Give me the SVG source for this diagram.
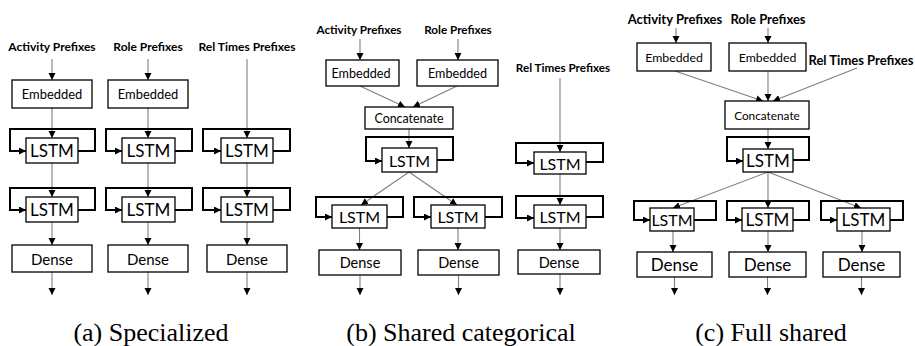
<svg xmlns="http://www.w3.org/2000/svg" width="915" height="346" viewBox="0 0 915 346">
  <defs>
    <marker id="ah" markerUnits="userSpaceOnUse" markerWidth="8" markerHeight="8" refX="7" refY="3.5" orient="auto">
      <path d="M0,0 L7,3.5 L0,7 z" fill="#000"/>
    </marker>
    <style>
      .box { fill: #fff; stroke: #000; stroke-width: 1.3; }
      .t { font-family: Lato, "Liberation Sans", sans-serif; text-anchor: middle; dominant-baseline: central; fill: #000; }
      .lbl { font-family: Lato, "Liberation Sans", sans-serif; font-weight: bold; text-anchor: middle; dominant-baseline: central; fill: #000; }
      .wire { fill: none; stroke: #7f7f7f; stroke-width: 1.1; marker-end: url(#ah); }
      .loop { fill: none; stroke: #000; stroke-width: 2; marker-end: url(#ah); }
      .cap { font-family: "Liberation Serif", "Times New Roman", serif; font-size: 26px; text-anchor: middle; fill: #000; }
    </style>
  </defs>
  <rect width="915" height="346" fill="#fff"/>

  <!-- connectors -->
  <g id="connectors">
    <!-- (a) specialized -->
    <path class="wire" d="M52,59 V80"/>
    <path class="wire" d="M148,59 V80"/>
    <path class="wire" d="M247,59 V138"/>
    <path class="wire" d="M52,108 V138"/>
    <path class="wire" d="M148,108 V138"/>
    <path class="wire" d="M52,163 V197"/>
    <path class="wire" d="M148,163 V197"/>
    <path class="wire" d="M247,163 V197"/>
    <path class="wire" d="M52,222 V245"/>
    <path class="wire" d="M148,222 V245"/>
    <path class="wire" d="M247,222 V245"/>
    <path class="wire" d="M52,272 V295"/>
    <path class="wire" d="M148,272 V295"/>
    <path class="wire" d="M247,272 V295"/>
    <path class="loop" d="M78,151 H95 V129 H10 V151 H26"/>
    <path class="loop" d="M175,151 H192 V129 H106 V151 H122"/>
    <path class="loop" d="M273,151 H290 V129 H203 V151 H221"/>
    <path class="loop" d="M78,210 H95 V188 H10 V210 H26"/>
    <path class="loop" d="M175,210 H192 V188 H106 V210 H122"/>
    <path class="loop" d="M273,210 H290 V188 H203 V210 H221"/>

    <!-- (b) shared categorical -->
    <path class="wire" d="M360,39 V60"/>
    <path class="wire" d="M458,39 V60"/>
    <path class="wire" d="M360,86 L405,107"/>
    <path class="wire" d="M457,86 L413,107"/>
    <path class="wire" d="M409,129 V148"/>
    <path class="wire" d="M409,172 L361,205"/>
    <path class="wire" d="M409,172 L457,205"/>
    <path class="wire" d="M359.5,228 V250"/>
    <path class="wire" d="M458,228 V250"/>
    <path class="wire" d="M360,275 V295"/>
    <path class="wire" d="M458.5,275 V295"/>
    <path class="wire" d="M560,78 V152"/>
    <path class="wire" d="M560,174 V205"/>
    <path class="wire" d="M560,228 V250"/>
    <path class="wire" d="M560,274 V295"/>
    <path class="loop" d="M437,160 H453 V137 H366 V161 H382"/>
    <path class="loop" d="M387,217 H403 V197 H316 V217 H332"/>
    <path class="loop" d="M485,217 H502 V197 H414 V217 H431"/>
    <path class="loop" d="M586,162 H603 V143 H516 V163 H534"/>
    <path class="loop" d="M586,217 H603 V196 H516 V218 H534"/>

    <!-- (c) full shared -->
    <path class="wire" d="M676,28 V43"/>
    <path class="wire" d="M768,28 V43"/>
    <path class="wire" d="M675,71 L763,101"/>
    <path class="wire" d="M768,71 V101"/>
    <path class="wire" d="M857,68 L773,101"/>
    <path class="wire" d="M768,129 V149"/>
    <path class="wire" d="M768,172 L673,208"/>
    <path class="wire" d="M768,172 V208"/>
    <path class="wire" d="M768,172 L861,208"/>
    <path class="wire" d="M673,231 V252"/>
    <path class="wire" d="M768,231 V252"/>
    <path class="wire" d="M862,231 V252"/>
    <path class="wire" d="M674.5,277 V295"/>
    <path class="wire" d="M767.5,277 V295"/>
    <path class="wire" d="M861.5,277 V295"/>
    <path class="loop" d="M793,160 H809 V137 H727 V161 H743"/>
    <path class="loop" d="M694,220 H716 V201 H634 V220 H650"/>
    <path class="loop" d="M793,220 H809 V201 H727 V220 H742"/>
    <path class="loop" d="M890,220 H903 V201 H821 V220 H837"/>
  </g>

  <!-- (a) specialized -->
  <g id="a-act-label"><text class="lbl" x="52" y="46" font-size="12">Activity Prefixes</text></g>
  <g id="a-role-label"><text class="lbl" x="148" y="46" font-size="12">Role Prefixes</text></g>
  <g id="a-rel-label"><text class="lbl" x="247" y="46" font-size="12">Rel Times Prefixes</text></g>
  <g id="a-emb-1"><rect class="box" x="12" y="80" width="80" height="28"/><text class="t" x="52" y="94" font-size="12.9">Embedded</text></g>
  <g id="a-emb-2"><rect class="box" x="108" y="80" width="80" height="28"/><text class="t" x="148" y="94" font-size="12.9">Embedded</text></g>
  <g id="a-lstm-1-1"><rect class="box" x="26" y="138" width="52" height="25"/><text class="t" x="52" y="150.5" font-size="17">LSTM</text></g>
  <g id="a-lstm-2-1"><rect class="box" x="122" y="138" width="53" height="25"/><text class="t" x="148.5" y="150.5" font-size="17">LSTM</text></g>
  <g id="a-lstm-3-1"><rect class="box" x="221" y="138" width="52" height="25"/><text class="t" x="247" y="150.5" font-size="17">LSTM</text></g>
  <g id="a-lstm-1-2"><rect class="box" x="26" y="197" width="52" height="25"/><text class="t" x="52" y="209.5" font-size="17">LSTM</text></g>
  <g id="a-lstm-2-2"><rect class="box" x="122" y="197" width="53" height="25"/><text class="t" x="148.5" y="209.5" font-size="17">LSTM</text></g>
  <g id="a-lstm-3-2"><rect class="box" x="221" y="197" width="52" height="25"/><text class="t" x="247" y="209.5" font-size="17">LSTM</text></g>
  <g id="a-dense-1"><rect class="box" x="12" y="245" width="80" height="27"/><text class="t" x="52" y="258.5" font-size="15">Dense</text></g>
  <g id="a-dense-2"><rect class="box" x="108" y="245" width="80" height="27"/><text class="t" x="148" y="258.5" font-size="15">Dense</text></g>
  <g id="a-dense-3"><rect class="box" x="207" y="245" width="80" height="27"/><text class="t" x="247" y="258.5" font-size="15">Dense</text></g>

  <!-- (b) shared categorical -->
  <g id="b-act-label"><text class="lbl" x="359" y="29" font-size="11.7">Activity Prefixes</text></g>
  <g id="b-role-label"><text class="lbl" x="458" y="29" font-size="11.7">Role Prefixes</text></g>
  <g id="b-rel-label"><text class="lbl" x="563" y="67" font-size="11.7">Rel Times Prefixes</text></g>
  <g id="b-emb-1"><rect class="box" x="326" y="60" width="73" height="26"/><text class="t" x="361" y="73" font-size="12.6">Embedded</text></g>
  <g id="b-emb-2"><rect class="box" x="417" y="60" width="81" height="26"/><text class="t" x="457.5" y="73" font-size="12.6">Embedded</text></g>
  <g id="b-concat"><rect class="box" x="365" y="107" width="88" height="22"/><text class="t" x="409" y="118" font-size="12.4">Concatenate</text></g>
  <g id="b-lstm-shared"><rect class="box" x="382" y="148" width="55" height="24"/><text class="t" x="409.5" y="160" font-size="16">LSTM</text></g>
  <g id="b-lstm-act"><rect class="box" x="332" y="205" width="55" height="23"/><text class="t" x="359.5" y="216.5" font-size="16">LSTM</text></g>
  <g id="b-lstm-role"><rect class="box" x="431" y="205" width="54" height="23"/><text class="t" x="458" y="216.5" font-size="16">LSTM</text></g>
  <g id="b-lstm-rel-1"><rect class="box" x="534" y="152" width="52" height="22"/><text class="t" x="560" y="163" font-size="16">LSTM</text></g>
  <g id="b-lstm-rel-2"><rect class="box" x="534" y="205" width="52" height="23"/><text class="t" x="560" y="216.5" font-size="16">LSTM</text></g>
  <g id="b-dense-act"><rect class="box" x="319" y="250" width="82" height="25"/><text class="t" x="360" y="262.5" font-size="14.5">Dense</text></g>
  <g id="b-dense-role"><rect class="box" x="418" y="250" width="81" height="25"/><text class="t" x="458.5" y="262.5" font-size="14.5">Dense</text></g>
  <g id="b-dense-rel"><rect class="box" x="518" y="250" width="82" height="24"/><text class="t" x="559" y="262" font-size="14.5">Dense</text></g>

  <!-- (c) full shared -->
  <g id="c-act-label"><text class="lbl" x="675" y="19" font-size="13">Activity Prefixes</text></g>
  <g id="c-role-label"><text class="lbl" x="768" y="19" font-size="13">Role Prefixes</text></g>
  <g id="c-rel-label"><text class="lbl" x="861" y="60" font-size="13">Rel Times Prefixes</text></g>
  <g id="c-emb-1"><rect class="box" x="637" y="43" width="74" height="28"/><text class="t" x="674" y="57" font-size="12.3">Embedded</text></g>
  <g id="c-emb-2"><rect class="box" x="729" y="43" width="77" height="28"/><text class="t" x="767.5" y="57" font-size="12.3">Embedded</text></g>
  <g id="c-concat"><rect class="box" x="725" y="101" width="84" height="28"/><text class="t" x="767" y="115" font-size="11.8">Concatenate</text></g>
  <g id="c-lstm-shared"><rect class="box" x="743" y="149" width="50" height="23"/><text class="t" x="768" y="160.5" font-size="17">LSTM</text></g>
  <g id="c-lstm-act"><rect class="box" x="650" y="208" width="44" height="23"/><text class="t" x="672" y="219.5" font-size="16">LSTM</text></g>
  <g id="c-lstm-role"><rect class="box" x="742" y="208" width="51" height="23"/><text class="t" x="767.5" y="219.5" font-size="17">LSTM</text></g>
  <g id="c-lstm-rel"><rect class="box" x="837" y="208" width="53" height="23"/><text class="t" x="863.5" y="219.5" font-size="17">LSTM</text></g>
  <g id="c-dense-act"><rect class="box" x="637" y="252" width="75" height="25"/><text class="t" x="674.5" y="264.5" font-size="17">Dense</text></g>
  <g id="c-dense-role"><rect class="box" x="729" y="252" width="77" height="25"/><text class="t" x="767.5" y="264.5" font-size="17">Dense</text></g>
  <g id="c-dense-rel"><rect class="box" x="823" y="252" width="77" height="25"/><text class="t" x="861.5" y="264.5" font-size="17">Dense</text></g>

  <!-- captions -->
  <text class="cap" x="151" y="341">(a) Specialized</text>
  <text class="cap" x="461" y="341">(b) Shared categorical</text>
  <text class="cap" x="771" y="341">(c) Full shared</text>
</svg>
